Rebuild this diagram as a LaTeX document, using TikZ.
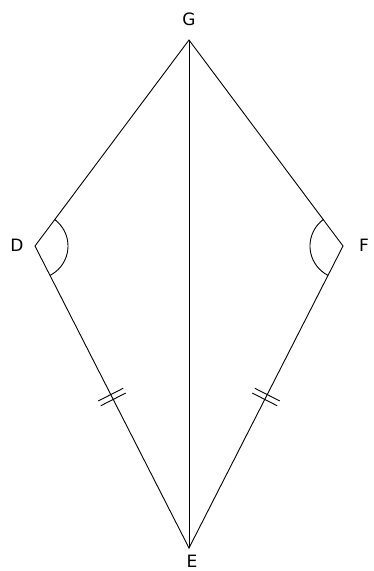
\documentclass[tikz,border=0pt]{standalone}
\usepackage{fontspec}
\setmainfont{DejaVu Sans}
\usetikzlibrary{angles,calc}
\begin{document}
\begin{tikzpicture}[x=1pt,y=-1pt, line width=0.9pt,
  lbl/.style={font=\fontsize{17}{17}\selectfont, inner sep=0pt},
  tick/.style={line width=0.9pt}]
\useasboundingbox (0,0) rectangle (373,571);
\coordinate (G) at (189,40);
\coordinate (D) at (35,246);
\coordinate (F) at (343,246);
\coordinate (E) at (189,548);
\node[lbl] (lG) at (189,19) {G};
\node[lbl] (lD) at (17,245) {D};
\node[lbl] (lF) at (364,245) {F};
\node[lbl] (lE) at (192,561) {E};
\draw (G) -- (D) -- (E) -- (F) -- cycle;
\draw (G) -- (E);
\pic[draw, angle radius=33pt] {angle = E--D--G};
\pic[draw, angle radius=33pt] {angle = G--F--E};
\coordinate (a1) at ($(D)!0.492!(E)$);
\coordinate (a2) at ($(D)!0.508!(E)$);
\coordinate (b1) at ($(F)!0.492!(E)$);
\coordinate (b2) at ($(F)!0.508!(E)$);
\draw[tick] ($(a1)!14pt!90:(E)$) -- ($(a1)!14pt!-90:(E)$);
\draw[tick] ($(a2)!14pt!90:(E)$) -- ($(a2)!14pt!-90:(E)$);
\draw[tick] ($(b1)!14pt!90:(E)$) -- ($(b1)!14pt!-90:(E)$);
\draw[tick] ($(b2)!14pt!90:(E)$) -- ($(b2)!14pt!-90:(E)$);
\end{tikzpicture}
\end{document}
